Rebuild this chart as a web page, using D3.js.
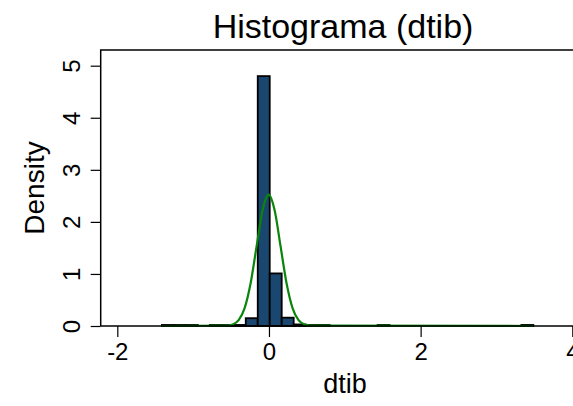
<!DOCTYPE html>
<html>
<head>
<meta charset="utf-8">
<script src="https://cdn.jsdelivr.net/npm/d3@7"></script>
<style>
  html, body { margin: 0; padding: 0; background: #ffffff; overflow: hidden; }
  svg { display: block; }
  text { font-family: "Liberation Sans", Arial, sans-serif; fill: #000; }
</style>
</head>
<body>
<svg id="chart" width="573" height="406"></svg>
<script>
// ---- data ----
const chartTitle = "Histograma (dtib)";
const xTitle = "dtib";
const yTitle = "Density";
const xTicks = [-2, 0, 2, 4];
const yTicks = [0, 1, 2, 3, 4, 5];
// histogram: 31 bins from binMin with constant width
const binMin = -1.412;
const binWidth = 0.158;
const densities = [0.02, 0.02, 0.02, 0, 0.02, 0.02, 0.02, 0.15, 4.80, 1.01,
                   0.16, 0.03, 0.02, 0.02, 0, 0, 0, 0, 0.02, 0,
                   0, 0, 0, 0, 0, 0, 0, 0, 0, 0, 0.02];
// normal density overlay
const curveX = [-1.412, -0.558, -0.479, -0.400, -0.321, -0.242, -0.163, -0.084, -0.005,
                0.074, 0.153, 0.232, 0.311, 0.390, 0.469, 0.548, 3.488];
const curveY = [0, 0.006, 0.028, 0.111, 0.342, 0.820, 1.531, 2.228, 2.525,
                2.228, 1.531, 0.820, 0.342, 0.111, 0.028, 0.006, 0];

// ---- layout ----
const svg = d3.select("#chart");
const frame = { left: 100.7, right: 589, top: 50, bottom: 326 };
const x = d3.scaleLinear().domain([-2, 4]).range([117.3, 572.3]);
const y = d3.scaleLinear().domain([0, 5]).range([326, 65.7]);

const barColor = "#1a476f";
const lineColor = "#0a850a";

// bars
const bins = densities.map((d, i) => ({ x0: binMin + i * binWidth, x1: binMin + (i + 1) * binWidth, d }));
svg.append("g")
  .selectAll("rect")
  .data(bins.filter(b => b.d > 0))
  .join("rect")
  .attr("x", b => x(b.x0))
  .attr("width", b => x(b.x1) - x(b.x0))
  .attr("y", b => y(b.d))
  .attr("height", b => y(0) - y(b.d))
  .attr("fill", barColor)
  .attr("stroke", "#000")
  .attr("stroke-width", 1.8);

// normal curve
const pts = curveX.map((v, i) => [v, curveY[i]]);
svg.append("path")
  .datum(pts)
  .attr("fill", "none")
  .attr("stroke", lineColor)
  .attr("stroke-width", 2.2)
  .attr("d", d3.line().x(p => x(p[0])).y(p => y(p[1])).curve(d3.curveMonotoneX));

// frame (top and left)
svg.append("path")
  .attr("d", `M${frame.left},${frame.bottom}V${frame.top}H${frame.right}`)
  .attr("fill", "none")
  .attr("stroke", "#000")
  .attr("stroke-width", 1.5);

// x axis
const xAxis = svg.append("g")
  .attr("transform", `translate(0,${frame.bottom})`)
  .call(d3.axisBottom(x).tickValues(xTicks).tickFormat(d3.format("d")).tickSize(11).tickSizeOuter(0).tickPadding(6));
xAxis.select(".domain").attr("d", `M${frame.left},0H${frame.right}`).attr("stroke-width", 1.5);
xAxis.selectAll(".tick line").attr("stroke-width", 1.2);
xAxis.selectAll("text").attr("font-size", 24).attr("font-family", "Liberation Sans, Arial, sans-serif").attr("fill", "#000");
xAxis.selectAll("text").text(d => d < 0 ? "-" + Math.abs(d) : d);

// y axis
const yAxis = svg.append("g")
  .attr("transform", `translate(${frame.left},0)`)
  .call(d3.axisLeft(y).tickValues(yTicks).tickFormat(d3.format("d")).tickSize(10).tickSizeOuter(0));
yAxis.select(".domain").remove();
yAxis.selectAll(".tick line").attr("stroke-width", 1.2);
yAxis.selectAll(".tick text")
  .attr("x", null).attr("dy", null)
  .attr("text-anchor", "middle")
  .attr("transform", "translate(-21,0) rotate(-90)")
  .attr("font-size", 24)
  .attr("font-family", "Liberation Sans, Arial, sans-serif")
  .attr("fill", "#000");

// titles
svg.append("text")
  .attr("x", 343).attr("y", 38)
  .attr("text-anchor", "middle")
  .attr("font-size", 34)
  .text(chartTitle);

svg.append("text")
  .attr("x", 345).attr("y", 393)
  .attr("text-anchor", "middle")
  .attr("font-size", 27)
  .text(xTitle);

svg.append("text")
  .attr("transform", `translate(44,188) rotate(-90)`)
  .attr("text-anchor", "middle")
  .attr("font-size", 28)
  .text(yTitle);
</script>
</body>
</html>
